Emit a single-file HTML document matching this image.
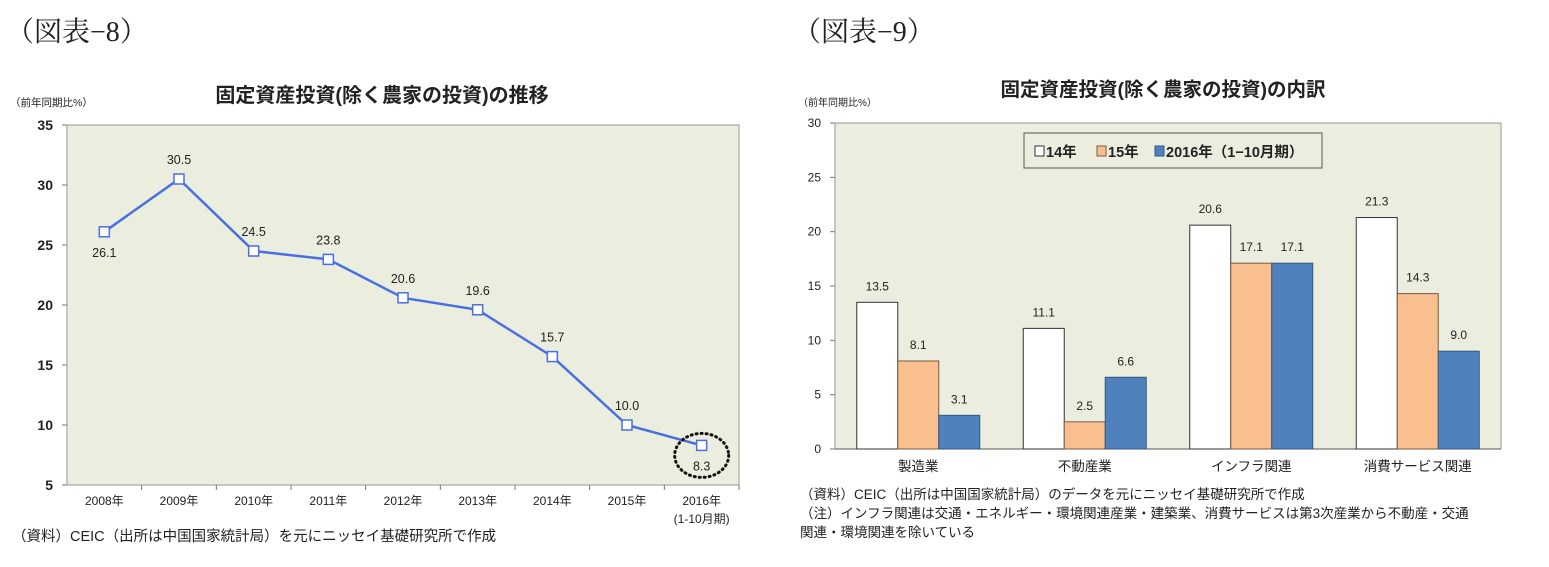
<!DOCTYPE html>
<html><head><meta charset="utf-8">
<style>
html,body{margin:0;padding:0;background:#fff;width:1549px;height:567px;overflow:hidden}
svg{display:block}
text{font-family:"Liberation Sans","Noto Sans CJK JP",sans-serif;fill:#222}
.serif{font-family:"Liberation Serif","Noto Serif CJK JP",serif}
</style></head>
<body>
<svg id="c" width="1549" height="567" viewBox="0 0 1549 567">
<text class="serif" x="6" y="41" font-size="28">（図表−8）</text>
<text class="serif" x="793" y="41" font-size="28">（図表−9）</text>
<text x="382" y="102" font-size="20" font-weight="bold" text-anchor="middle">固定資産投資(除く農家の投資)の推移</text>
<text x="1163" y="96" font-size="19.5" font-weight="bold" text-anchor="middle">固定資産投資(除く農家の投資)の内訳</text>
<text x="10" y="106" font-size="10.5" fill="#444">（前年同期比%）</text>
<text x="798" y="106" font-size="10" fill="#444">（前年同期比%）</text>
<rect x="67" y="125" width="672" height="360" fill="#ebeedf" stroke="#999"/>
<rect x="835" y="123" width="666" height="326" fill="#ebeedf" stroke="#999"/>
<g id="L"></g><g id="R"></g>
<text x="12" y="541" font-size="14.5">（資料）CEIC（出所は中国国家統計局）を元にニッセイ基礎研究所で作成</text>
<text x="800" y="499" font-size="13.5" fill="#333">（資料）CEIC（出所は中国国家統計局）のデータを元にニッセイ基礎研究所で作成</text>
<text x="800" y="518" font-size="13.5" fill="#333">（注）インフラ関連は交通・エネルギー・環境関連産業・建築業、消費サービスは第3次産業から不動産・交通</text>
<text x="800" y="537" font-size="13.5" fill="#333">関連・環境関連を除いている</text>
</svg>
<script>
const years = ["2008年","2009年","2010年","2011年","2012年","2013年","2014年","2015年","2016年"];
const growth = [26.1,30.5,24.5,23.8,20.6,19.6,15.7,10.0,8.3];
const leftTicks = [5,10,15,20,25,30,35];
const sectors = ["製造業","不動産業","インフラ関連","消費サービス関連"];
const s14 = [13.5,11.1,20.6,21.3];
const s15 = [8.1,2.5,17.1,14.3];
const s16 = [3.1,6.6,17.1,9.0];
const rightTicks = [0,5,10,15,20,25,30];
const seriesNames = ["14年","15年","2016年（1−10月期）"];

const NS="http://www.w3.org/2000/svg";
function mk(p,tag,a,txt){const e=document.createElementNS(NS,tag);for(const k in a)e.setAttribute(k,a[k]);if(txt!=null)e.textContent=txt;p.appendChild(e);return e;}
const L=document.getElementById('L'), R=document.getElementById('R');

// left chart
const lx0=67,lx1=739,ly0=485,ly1=125;
const ly=v=>ly0-(v-5)/(35-5)*(ly0-ly1);
const lband=(lx1-lx0)/years.length;
const lx=i=>lx0+lband*(i+0.5);
leftTicks.forEach(t=>{
  const tx=mk(L,'text',{x:lx0-14,y:ly(t)+5,'font-size':14,'font-weight':'bold','text-anchor':'end'},t);
  
  
  mk(L,'line',{x1:lx0-5,x2:lx0,y1:ly(t),y2:ly(t),stroke:'#777'});
});
years.forEach((y,i)=>{
  const tx=mk(L,'text',{x:lx(i),y:ly0+20,'font-size':12,'text-anchor':'middle',fill:'#333'},y);
  
  
  mk(L,'line',{x1:lx0+lband*(i+1),x2:lx0+lband*(i+1),y1:ly0,y2:ly0+5,stroke:'#777'});
});
const t2=mk(L,'text',{x:lx(8),y:ly0+38,'font-size':12,'text-anchor':'middle',fill:'#333'},'(1-10月期)');


const line=mk(L,'polyline',{points:growth.map((v,i)=>lx(i)+','+ly(v)).join(' '),fill:'none',stroke:'#4a6fe0','stroke-width':2.5});


growth.forEach((v,i)=>{
  const m=mk(L,'rect',{x:lx(i)-5,y:ly(v)-5,width:10,height:10,fill:'#fff',stroke:'#4a6fe0','stroke-width':1.5});
  
  
  const below=(i===0||i===8);
  const lb=mk(L,'text',{x:lx(i),y:below?ly(v)+25:ly(v)-15,'font-size':12.5,'text-anchor':'middle'},v.toFixed(1));
  
  
});
const circ=mk(L,'ellipse',{cx:lx(8),cy:ly(growth[8])+10,rx:27,ry:22,fill:'none',stroke:'#111','stroke-width':3,'stroke-dasharray':'1 4','stroke-linecap':'round'});



// right chart
const rx0=835,rx1=1501,ry0=449,ry1=123;
const ry=v=>ry0-v/30*(ry0-ry1);
const rband=(rx1-rx0)/sectors.length;
const bw=41;
rightTicks.forEach(t=>{
  const tx=mk(R,'text',{x:rx0-14,y:ry(t)+4,'font-size':12,'text-anchor':'end',fill:'#444'},t);
  
  
  mk(R,'line',{x1:rx0-5,x2:rx0,y1:ry(t),y2:ry(t),stroke:'#777'});
});
mk(R,'line',{x1:rx0,x2:rx1,y1:ry0,y2:ry0,stroke:'#555'});
const series=[s14,s15,s16], cols=['#ffffff','#f9bf8f','#4f81bd'], strokes=['#333','#7a5a40','#36577f'];
sectors.forEach((s,i)=>{
  const cx=rx0+rband*(i+0.5);
  const tx=mk(R,'text',{x:cx,y:ry0+22,'font-size':13.5,'text-anchor':'middle'},s);
  
  
  series.forEach((arr,k)=>{
    const v=arr[i], x=cx-1.5*bw+k*bw;
    const b=mk(R,'rect',{x:x,y:ry(v),width:bw,height:ry0-ry(v),fill:cols[k],stroke:strokes[k],'stroke-width':1});
    
    
    const lb=mk(R,'text',{x:x+bw/2,y:ry(v)-12,'font-size':12,'text-anchor':'middle',fill:'#333'},v.toFixed(1));
    
    
  });
});
const lg=mk(R,'g',{});


mk(lg,'rect',{x:1024,y:133,width:298,height:35,fill:'#ebeedf',stroke:'#555'});
const lpos=[1035,1097,1155];
seriesNames.forEach((n,k)=>{
  const sw=mk(lg,'rect',{x:lpos[k],y:146,width:9,height:10,fill:cols[k],stroke:strokes[k]});
  
  
  const t=mk(lg,'text',{x:lpos[k]+11,y:157,'font-size':14.5,'font-weight':'bold'},n);
  
  
});
</script>
</body></html>
